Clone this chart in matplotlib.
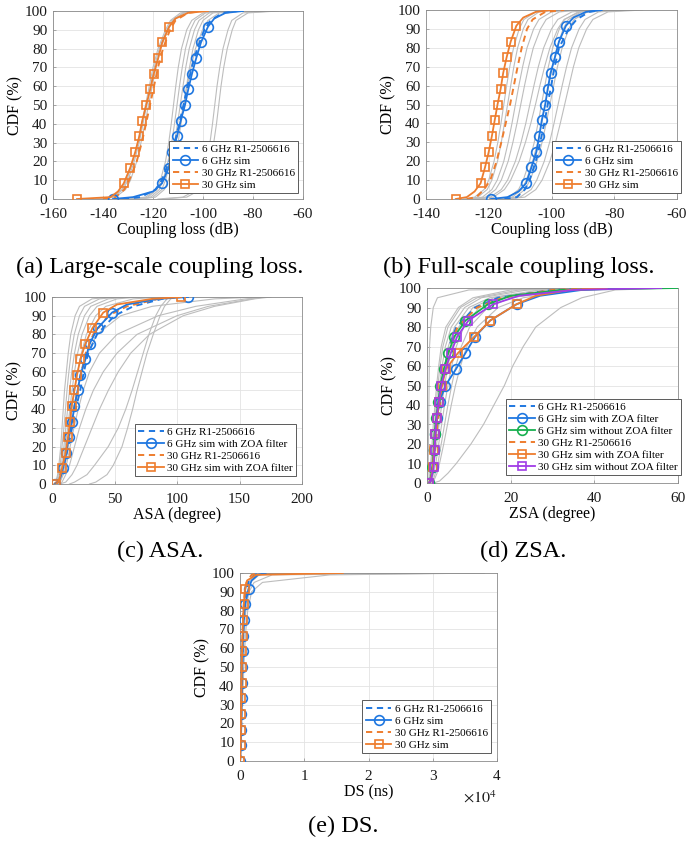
import matplotlib
matplotlib.use("Agg")
import matplotlib.pyplot as plt
from matplotlib.ticker import FuncFormatter

plt.rcParams['font.family'] = ['Liberation Serif', 'DejaVu Serif']
plt.rcParams['mathtext.fontset'] = 'stix'
plt.rcParams['axes.unicode_minus'] = False

BLUE = '#1f77e0'
ORANGE = '#ee7d2e'
GREEN = '#17b04f'
PURPLE = '#a03ce6'
GREY = '#bdbdbd'

# CDF levels (%) used for every curve
P_REF = [0, 1, 5, 10, 20, 30, 40, 50, 60, 70, 80, 90, 95, 99, 100]
P_SIM = [0, 1, 4, 8.33, 16.67, 25, 33.33, 41.67, 50, 58.33, 66.67, 75, 83.33, 91.67, 96, 99, 100]

# ---- (a) large-scale coupling loss (dB)
a_ref = [
    [-142, -136, -132, -130, -127.5, -125.5, -124, -122.5, -121, -119.5, -117.5, -114.5, -112.5, -108, -102],
    [-141, -135, -131, -129, -126.5, -124.8, -123.2, -121.8, -120.3, -118.8, -117, -114, -112, -107.5, -101],
    [-143, -136.5, -132.5, -130.5, -128, -126, -124.5, -123, -121.5, -120, -118, -115, -113, -109, -103],
    [-128, -122, -118.5, -117, -115, -113.7, -112.7, -111.8, -110.9, -109.9, -108.6, -106.5, -104.5, -100, -92],
    [-127, -121, -117.5, -116, -114, -112.5, -111.4, -110.4, -109.4, -108.3, -107, -105, -103.2, -99, -90],
    [-126, -120, -116.5, -115, -113, -111.4, -110.2, -109.1, -108, -106.9, -105.5, -103.4, -101.6, -97.5, -88],
    [-125, -119, -115.5, -113.8, -111.7, -110, -108.8, -107.7, -106.6, -105.4, -104, -101.8, -100, -96, -86],
    [-130, -123, -118.5, -116, -113, -111, -109.3, -107.8, -106.3, -104.8, -103, -100.2, -98, -93.5, -85],
    [-118, -108, -102.5, -100.5, -98.5, -97.2, -96.2, -95.3, -94.4, -93.3, -92, -90, -88.5, -84, -72],
    [-116, -106.5, -101, -99, -97, -95.7, -94.6, -93.7, -92.8, -91.7, -90.3, -88.3, -86.8, -82, -70],
]
a_6g_r1 = [-132, -125, -119, -116.5, -113.5, -111.3, -109.5, -107.8, -106.2, -104.5, -102.3, -99.5, -97, -92, -86]
a_6g_sim = [-136, -128, -120, -116.4, -113.7, -112.3, -110.4, -108.9, -107.2, -105.9, -104.4, -102.7, -100.8, -98, -95.5, -91, -84]
a_30g_r1 = [-140, -135, -131.5, -129.5, -126.5, -124.5, -122.8, -121.2, -119.6, -118, -116, -113.2, -111, -106, -100]
a_30g_sim = [-150.4, -137, -134, -131.7, -129.1, -127.1, -125.5, -124.3, -122.7, -121.1, -119.7, -117.9, -116.3, -113.5, -111, -106, -98]

# ---- (b) full-scale coupling loss (dB)
b_ref = [
    [-128, -124.5, -121.5, -120, -118.3, -117.1, -116.1, -115.2, -114.3, -113.3, -112.1, -110.3, -108.8, -105, -99],
    [-127, -123.5, -120.5, -119, -117.2, -116, -115, -114, -113, -112, -110.8, -109, -107.5, -104, -98],
    [-126, -122, -119, -117.3, -115.2, -113.8, -112.6, -111.5, -110.4, -109.2, -107.8, -105.7, -104, -100, -93],
    [-125, -121, -117.8, -116, -113.8, -112.3, -111, -109.8, -108.6, -107.3, -105.8, -103.5, -101.7, -97.5, -90],
    [-124, -119.5, -116, -114, -111.5, -109.7, -108.2, -106.9, -105.6, -104.2, -102.5, -100, -98, -93.5, -86],
    [-123, -118.5, -115, -113, -110.3, -108.3, -106.6, -105.1, -103.7, -102.2, -100.5, -98, -96, -91, -80],
    [-118, -113.5, -110.5, -109, -107, -105.5, -104.3, -103.2, -102.1, -101, -99.6, -97.5, -95.8, -91.5, -82],
    [-117, -112.5, -109.5, -108, -106, -104.4, -103.1, -102, -100.9, -99.7, -98.3, -96.3, -94.6, -90.5, -80],
    [-116, -111.5, -108.5, -106.8, -104.6, -103, -101.7, -100.5, -99.3, -98.1, -96.6, -94.5, -92.8, -88.5, -77],
    [-115, -110, -106.5, -104.7, -102.3, -100.6, -99.2, -97.9, -96.6, -95.2, -93.6, -91.2, -89.3, -85, -74],
    [-114, -108.5, -105, -103, -100.5, -98.7, -97.2, -95.8, -94.4, -93, -91.3, -88.8, -86.8, -82, -71],
]
b_6g_r1 = [-115, -111, -108.5, -107, -105, -103.6, -102.3, -101.2, -100.1, -99, -97.6, -94.5, -92, -88, -84]
b_6g_sim = [-119.3, -114, -110.5, -108.1, -106.4, -104.8, -103.9, -103.1, -102.0, -101.2, -100.3, -98.9, -97.6, -95.4, -93, -89, -84]
b_30g_r1 = [-127, -124, -121.5, -119.5, -117.5, -116, -114.6, -113.2, -112, -110.8, -109.5, -107.8, -106, -102, -96]
b_30g_sim = [-130.5, -127, -124.5, -122.6, -121.2, -120.0, -119.0, -118.1, -117.2, -116.2, -115.4, -114.3, -113.0, -111.2, -109, -105, -100]

# ---- (c) ASA (degree)
c_ref = [
    [1, 3, 4.5, 5.5, 7, 8, 9, 10, 11.5, 13, 15, 18.5, 22, 32, 48],
    [1.5, 3.5, 5, 6.5, 8, 9.5, 10.8, 12, 13.5, 15.3, 17.8, 22, 26, 38, 55],
    [2, 4, 6, 7.5, 9.5, 11, 12.5, 14, 15.8, 18, 21, 26, 31, 45, 62],
    [2, 4.5, 7, 8.5, 10.5, 12.5, 14.3, 16, 18, 20.5, 24, 30, 36, 52, 70],
    [2.5, 5, 7.5, 9.5, 12, 14, 16, 18, 20.5, 23.5, 27.5, 35, 43, 65, 90],
    [3, 6, 8.5, 10.5, 13, 15.5, 18, 20.5, 24, 28.5, 36, 55, 80, 130, 165],
    [3, 6.5, 9, 11.5, 14.5, 17.5, 21, 25, 30, 38, 52, 85, 115, 155, 172],
    [4, 8, 11, 14, 18, 22, 27, 33, 41, 52, 68, 100, 125, 160, 170],
    [6, 11, 16, 20, 26, 32, 38, 45, 53, 63, 78, 105, 130, 162, 175],
    [14, 18, 28, 34, 45, 53, 59, 64, 68.5, 73, 77.5, 83, 87, 92, 96],
    [30, 35, 44, 49, 56, 60.5, 64.5, 68, 72, 76, 81, 86.5, 90, 95, 100],
]
c_6g_r1 = [2, 4.5, 7, 9.5, 13, 16, 19, 22.5, 25.5, 29, 36, 50, 65, 88, 100]
c_6g_sim = [2.7, 5, 7, 8.8, 11.5, 13.3, 16, 17.9, 20.5, 22.7, 26.7, 30.1, 36.5, 48, 60, 85, 108.8]
c_30g_r1 = [2, 4, 6.5, 8.8, 12, 14.8, 17.5, 20.5, 23.5, 27, 33, 45, 60, 85, 103]
c_30g_sim = [3.5, 5, 6.5, 8, 10.9, 12.8, 14.4, 15.7, 17.9, 20, 22.7, 26.7, 32.3, 41, 52, 80, 103.5]

# ---- (d) ZSA (degree)
d_ref = [
    [0.1, 0.2, 0.25, 0.3, 0.35, 0.4, 0.45, 0.5, 0.55, 0.6, 0.9, 1.5, 2.5, 10, 40],
    [1.5, 3, 5, 7, 10.5, 13.5, 16, 18.5, 20.5, 23, 26, 32, 37, 45, 58],
    [0.3, 0.5, 0.8, 1.0, 1.4, 1.8, 2.2, 2.6, 3.1, 3.8, 5.0, 8.0, 12, 22, 40],
    [0.4, 0.6, 0.9, 1.2, 1.6, 2.0, 2.5, 3.0, 3.6, 4.4, 5.8, 9.0, 13, 24, 45],
    [0.5, 0.8, 1.1, 1.4, 1.9, 2.4, 2.9, 3.5, 4.2, 5.1, 6.6, 10, 15, 27, 48],
    [0.6, 0.9, 1.3, 1.7, 2.3, 2.9, 3.5, 4.2, 5.0, 6.0, 7.6, 11, 16, 29, 50],
    [0.7, 1.1, 1.6, 2.1, 2.8, 3.5, 4.2, 5.0, 5.9, 7.0, 8.8, 12.5, 18, 32, 52],
    [0.9, 1.4, 2.0, 2.6, 3.4, 4.2, 5.0, 5.9, 6.9, 8.2, 10.2, 14.5, 20, 34, 55],
    [1.0, 1.6, 2.4, 3.0, 4.0, 4.9, 5.8, 6.8, 8.0, 9.5, 12, 17, 23, 36, 56],
    [0.3, 0.5, 0.7, 0.9, 1.2, 1.5, 1.9, 2.3, 2.8, 3.4, 4.5, 7.5, 11, 20, 38],
]
d_6g_r1 = [0.5, 0.8, 1.2, 1.5, 2.0, 2.5, 3.0, 3.6, 4.3, 5.3, 7.0, 11.5, 17, 30, 46]
d_6g_sim = [0.5, 0.8, 1.1, 1.4, 1.7, 2.0, 2.4, 3.0, 4.4, 6.9, 9.2, 11.5, 15.1, 21.4, 27, 37, 48]
d_6g_nozoa = [0.5, 0.8, 1.0, 1.3, 1.6, 1.8, 2.2, 2.7, 3.2, 4.0, 5.1, 6.5, 9.2, 14.6, 20, 32, 60]
d_30g_r1 = [0.5, 0.8, 1.2, 1.5, 2.0, 2.5, 3.1, 3.7, 4.4, 5.5, 7.3, 12, 18, 30, 42]
d_30g_sim = [0.5, 0.8, 1.1, 1.4, 1.7, 2.0, 2.4, 2.9, 3.6, 4.5, 7.4, 11.3, 15.1, 21.4, 26, 34, 43]
d_30g_nozoa = [0.5, 0.9, 1.2, 1.6, 1.8, 2.0, 2.3, 2.8, 3.4, 4.4, 5.7, 7.2, 9.9, 15.8, 22, 35, 56]

# ---- (e) DS (ns)
e_ref = [
    [0, 30, 80, 120, 180, 240, 300, 360, 440, 540, 700, 1100, 1600, 3000, 8000],
    [0, 40, 100, 150, 230, 300, 380, 460, 560, 690, 900, 1400, 2200, 5000, 38000],
    [0, 50, 120, 190, 290, 390, 490, 600, 740, 920, 1200, 1800, 3500, 14000, 38000],
    [0, 20, 50, 80, 130, 170, 220, 270, 330, 400, 520, 800, 1200, 2500, 6000],
]
e_6g_r1 = [0, 30, 80, 120, 190, 250, 300, 360, 430, 520, 660, 950, 1300, 2200, 3500]
e_6g_sim = [0, 30, 60, 100, 150, 190, 240, 290, 340, 400, 480, 580, 820, 1350, 1800, 2800, 4000]
e_30g_r1 = [0, 20, 60, 90, 140, 190, 230, 280, 340, 410, 520, 750, 1000, 1800, 3000]
e_30g_sim = [0, 20, 50, 90, 130, 160, 200, 240, 280, 330, 400, 480, 590, 800, 1100, 2500, 16000]


fig = plt.figure(figsize=(6.86, 8.46), dpi=100)
W, H = 686.0, 846.0


def make_ax(l, t, r, b):
    return fig.add_axes([l / W, 1 - b / H, (r - l) / W, (b - t) / H])


def style(ax, xlim, xticks, xlabel):
    ax.set_xlim(xlim)
    ax.set_ylim(0, 100)
    ax.set_xticks(xticks)
    ax.set_yticks(range(0, 101, 10))
    ax.grid(True, color='#e3e3e3', lw=0.6)
    ax.set_axisbelow(True)
    for s in ax.spines.values():
        s.set_color('#8a8a8a')
        s.set_linewidth(0.6)
    ax.tick_params(direction='in', length=2.5, width=0.5, color='#8a8a8a',
                   labelsize=11, labelcolor='#1a1a1a')
    ax.tick_params(axis='x', pad=6.5)
    ax.tick_params(axis='y', pad=4)
    ax.set_xlabel(xlabel, fontsize=11.5, labelpad=1)
    ax.set_ylabel('CDF (%)', fontsize=11.5, labelpad=1)


def grey(ax, curves):
    for xs in curves:
        ax.plot(xs, P_REF, color=GREY, lw=0.8, zorder=1)


def r1(ax, xs, color, label):
    ax.plot(xs, P_REF, '--', color=color, lw=1.4, dashes=(3.2, 2.4), label=label, zorder=3)


def sim(ax, xs, color, marker, label, last=False):
    idx = [0] + list(range(3, 14)) + ([16] if last else [])
    ms = 7 if marker == 'o' else 6
    ax.plot(xs, P_SIM, '-', color=color, lw=1.3, marker=marker, ms=ms, mfc='none',
            mew=1.2, markevery=idx, label=label, zorder=4)


def legend(ax, anchor):
    leg = ax.legend(loc='lower right', bbox_to_anchor=anchor, borderaxespad=0,
                    fontsize=8, frameon=True, fancybox=False, edgecolor='#5a5a5a',
                    framealpha=1, handlelength=2.3, handletextpad=0.3,
                    borderpad=0.3, labelspacing=0.2)
    leg.get_frame().set_linewidth(0.7)
    leg.set_zorder(10)


# (a)
ax = make_ax(53, 11, 303, 199)
grey(ax, a_ref)
r1(ax, a_6g_r1, BLUE, '6 GHz R1-2506616')
sim(ax, a_6g_sim, BLUE, 'o', '6 GHz sim')
r1(ax, a_30g_r1, ORANGE, '30 GHz R1-2506616')
sim(ax, a_30g_sim, ORANGE, 's', '30 GHz sim')
style(ax, (-160, -60), range(-160, -59, 20), 'Coupling loss (dB)')
legend(ax, (0.98, 0.03))

# (b)
ax = make_ax(426, 10, 677, 199)
grey(ax, b_ref)
r1(ax, b_6g_r1, BLUE, '6 GHz R1-2506616')
sim(ax, b_6g_sim, BLUE, 'o', '6 GHz sim')
r1(ax, b_30g_r1, ORANGE, '30 GHz R1-2506616')
sim(ax, b_30g_sim, ORANGE, 's', '30 GHz sim')
style(ax, (-140, -60), range(-140, -59, 20), 'Coupling loss (dB)')
legend(ax, (1.016, 0.03))

# (c)
ax = make_ax(52, 297, 302, 484)
grey(ax, c_ref)
r1(ax, c_6g_r1, BLUE, '6 GHz R1-2506616')
sim(ax, c_6g_sim, BLUE, 'o', '6 GHz sim with ZOA filter', last=True)
r1(ax, c_30g_r1, ORANGE, '30 GHz R1-2506616')
sim(ax, c_30g_sim, ORANGE, 's', '30 GHz sim with ZOA filter', last=True)
style(ax, (0, 200), range(0, 201, 50), 'ASA (degree)')
legend(ax, (0.976, 0.043))

# (d)
ax = make_ax(427, 288, 678, 483)
grey(ax, d_ref)
r1(ax, d_6g_r1, BLUE, '6 GHz R1-2506616')
sim(ax, d_6g_sim, BLUE, 'o', '6 GHz sim with ZOA filter')
sim(ax, d_6g_nozoa, GREEN, 'o', '6 GHz sim without ZOA filter')
r1(ax, d_30g_r1, ORANGE, '30 GHz R1-2506616')
sim(ax, d_30g_sim, ORANGE, 's', '30 GHz sim with ZOA filter')
sim(ax, d_30g_nozoa, PURPLE, 's', '30 GHz sim without ZOA filter')
style(ax, (0, 60), range(0, 61, 20), 'ZSA (degree)')
legend(ax, (1.012, 0.041))

# (e)
ax = make_ax(240, 573, 497, 761)
grey(ax, e_ref)
r1(ax, e_6g_r1, BLUE, '6 GHz R1-2506616')
sim(ax, e_6g_sim, BLUE, 'o', '6 GHz sim')
r1(ax, e_30g_r1, ORANGE, '30 GHz R1-2506616')
sim(ax, e_30g_sim, ORANGE, 's', '30 GHz sim')
style(ax, (0, 40000), range(0, 40001, 10000), 'DS (ns)')
ax.xaxis.set_major_formatter(FuncFormatter(lambda v, p: '%d' % round(v / 1e4)))
ax.text(0.935, -0.2, r'$\times10^4$', transform=ax.transAxes, ha='center', va='center',
        fontsize=11.5, color='#1a1a1a')
legend(ax, (0.977, 0.043))

# captions
fig.text(160 / W, 1 - 267 / H, '(a) Large-scale coupling loss.', ha='center', va='center', fontsize=17.5)
fig.text(519 / W, 1 - 267 / H, '(b) Full-scale coupling loss.', ha='center', va='center', fontsize=17.5)
fig.text(160 / W, 1 - 551 / H, '(c) ASA.', ha='center', va='center', fontsize=17.5)
fig.text(523 / W, 1 - 551 / H, '(d) ZSA.', ha='center', va='center', fontsize=17.5)
fig.text(343 / W, 1 - 826 / H, '(e) DS.', ha='center', va='center', fontsize=17.5)

fig.savefig('out.png', dpi=100)
